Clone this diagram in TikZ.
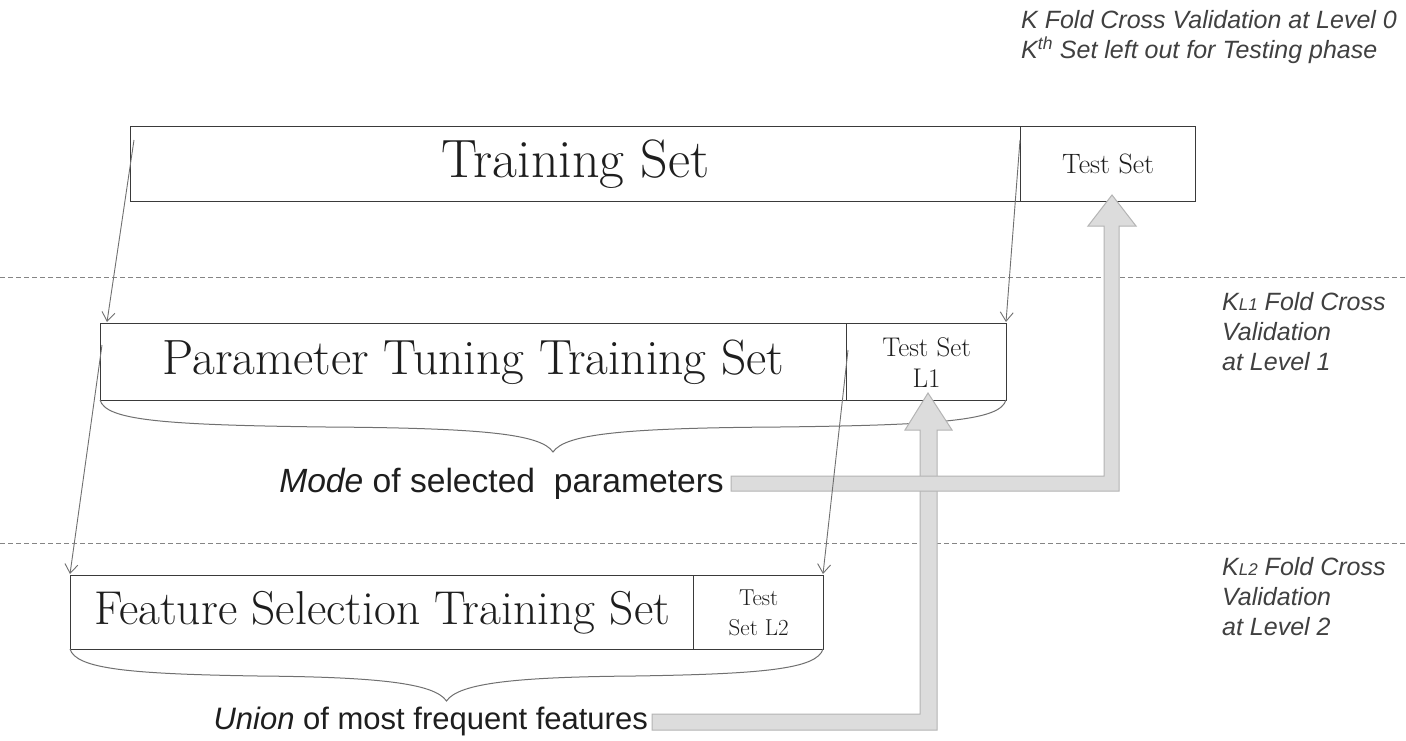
\documentclass[tikz,border=0pt]{standalone}
\usepackage{fontspec}
\newfontfamily\arialf{Liberation Sans}
\usetikzlibrary{arrows.meta}
\definecolor{boxline}{HTML}{3A3A3A}
\definecolor{txt}{HTML}{1E1E1E}
\definecolor{thin}{HTML}{707070}
\definecolor{dashc}{HTML}{858585}
\definecolor{bfill}{HTML}{DCDCDC}
\definecolor{bline}{HTML}{B4B4B4}
\tikzset{
  setbox/.style={draw=boxline, line width=1.3pt, inner sep=0pt, text=txt, align=center, anchor=north west},
  thinarrow/.style={draw=thin, line width=0.9pt, -{Straight Barb[length=9pt,width=13pt,line width=0.9pt]}},
  levelline/.style={draw=dashc, line width=1pt, dash pattern=on 5pt off 3pt},
  bracestyle/.style={draw=thin, line width=1pt},
  blockarrow/.style={fill=bfill, draw=bline, line width=1pt, line join=miter},
  sidelabel/.style={text=txt!85, align=left, anchor=north west, inner sep=0pt, font=\arialf\itshape\fontsize{25}{30}\selectfont},
  sanslabel/.style={text=txt, inner sep=0pt}
}
\newcommand\drawbrace[3]{%
  \pgfmathsetmacro\bc{(#1+#2)/2}%
  \pgfmathsetmacro\bm{(#1+\bc)/2}%
  \pgfmathsetmacro\bn{(#2+\bc)/2}%
  \draw[bracestyle] (#1,#3) .. controls (#1+6,#3+20) and (#1+60,#3+25) .. (\bm,#3+27)
     .. controls (\bc-70,#3+28) and (\bc-12,#3+34) .. (\bc,#3+52)
     .. controls (\bc+12,#3+34) and (\bc+70,#3+28) .. (\bn,#3+27)
     .. controls (#2-60,#3+25) and (#2-6,#3+20) .. (#2,#3);
}
\begin{document}
\begin{tikzpicture}[x=1pt,y=-1pt]
\useasboundingbox (0,0) rectangle (1406,740);
\fill[white] (0,0) rectangle (1406,740);

% level separators
\coordinate (d1l) at (0,277); \coordinate (d1r) at (1406,277);
\coordinate (d2l) at (0,543); \coordinate (d2r) at (1406,543);
\draw[levelline] (d1l) -- (d1r);
\draw[levelline] (d2l) -- (d2r);

% level 0
\node[setbox, minimum width=890pt, minimum height=75pt, font=\fontsize{54}{64}\selectfont] (train) at (130,126)
  {Training Set};
\node[setbox, minimum width=175pt, minimum height=75pt, font=\fontsize{28}{32}\selectfont] (test) at (1020,126)
  {Test Set};

% level 1
\node[setbox, minimum width=746pt, minimum height=77pt, font=\fontsize{49.5}{58}\selectfont] (param) at (100,323)
  {Parameter Tuning Training Set};
\node[setbox, minimum width=160pt, minimum height=77pt, font=\fontsize{27}{31}\selectfont] (testA) at (846,323)
  {Test Set\\ L1};

% level 2
\node[setbox, minimum width=623pt, minimum height=74pt, font=\fontsize{47.5}{56}\selectfont] (feat) at (70,575)
  {Feature Selection Training Set};
\node[setbox, minimum width=130pt, minimum height=74pt, font=\fontsize{23}{30}\selectfont] (testB) at (693,575)
  {Test\\ Set L2};

% braces
\drawbrace{100}{1006}{400}
\drawbrace{70}{823}{649}

% labels
\node[sanslabel, anchor=east, font=\arialf\fontsize{33.6}{38}\selectfont] (mode) at (724,484) {\itshape Mode\upshape{} of selected\ \ parameters};
\node[sanslabel, anchor=east, font=\arialf\fontsize{31}{38}\selectfont] (union) at (648,721) {\itshape Union\upshape{} of most frequent features};

\node[sidelabel] (lv0) at (1021,10) {K Fold Cross Validation at Level 0\\K\textsuperscript{th} Set left out for Testing phase};
\node[sidelabel] (lv1) at (1222,292) {K{\fontsize{17}{20}\selectfont L1} Fold Cross\\Validation\\at Level 1};
\node[sidelabel] (lv2) at (1222,557) {K{\fontsize{17}{20}\selectfont L2} Fold Cross\\Validation\\at Level 2};

% block arrows
\draw[blockarrow] (652,714) -- (920,714) -- (920,430) -- (905,430) -- (928,393)
  -- (952,430) -- (937,430) -- (937,730) -- (652,730) -- cycle;
\draw[blockarrow] (731,476) -- (1104,476) -- (1104,226) -- (1088,226) -- (1112,195)
  -- (1136,226) -- (1119,226) -- (1119,491) -- (731,491) -- cycle;

% thin split arrows
\coordinate (s1) at (134,140); \coordinate (e1) at (107,322);
\coordinate (s2) at (1020,140); \coordinate (e2) at (1006,322);
\coordinate (s3) at (102,345); \coordinate (e3) at (70,574);
\coordinate (s4) at (848,350); \coordinate (e4) at (823,574);
\draw[thinarrow] (s1) -- (e1);
\draw[thinarrow] (s2) -- (e2);
\draw[thinarrow] (s3) -- (e3);
\draw[thinarrow] (s4) -- (e4);
\end{tikzpicture}
\end{document}
